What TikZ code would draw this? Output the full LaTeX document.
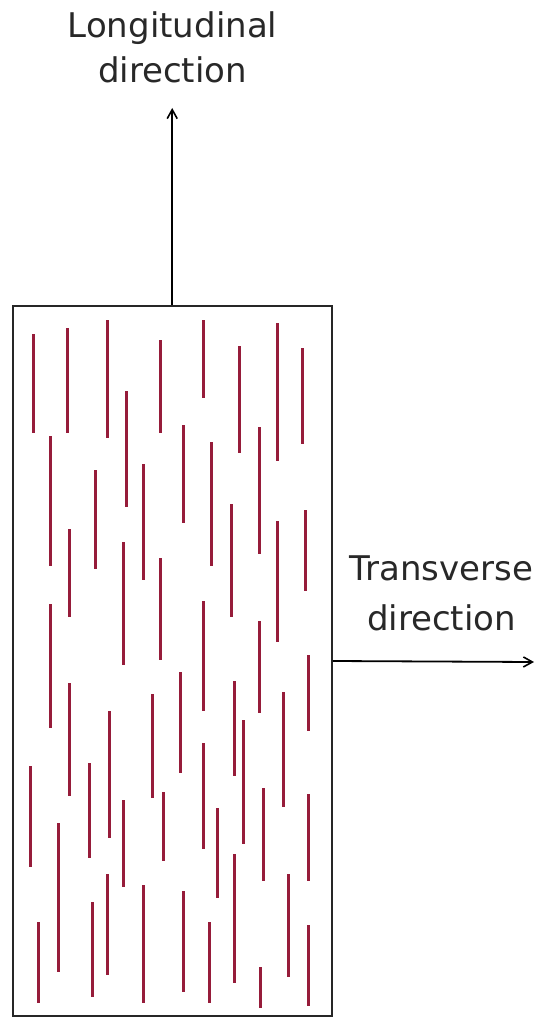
\documentclass[tikz,border=0pt]{standalone}
\usepackage{fontspec}
\setmainfont{DejaVu Sans}
\usetikzlibrary{arrows.meta}
\definecolor{fibercol}{RGB}{150,28,58}
\definecolor{txtcol}{RGB}{40,40,40}
\begin{document}
\begin{tikzpicture}[x=1pt,y=-1pt,
  lbl/.style={font=\fontsize{34}{42}\selectfont, text=txtcol, inner sep=0pt},
  fiber/.style={draw=fibercol, line width=3pt},
  boxstyle/.style={draw=black!85, line width=2.4pt, minimum width=319pt, minimum height=710pt, inner sep=0pt},
  dirarrow/.style={draw=black, line width=1.8pt, -{Straight Barb[length=9pt,width=10pt,line width=1.6pt]}}]
\useasboundingbox (0,0) rectangle (537,1019);
\node[boxstyle] (box) at (172.2,661) {};
\foreach \x/\a/\b in {
 33/334/433, 67/328/433, 107/320/438, 126/391/507, 160/340/433, 203/320/398,
 239/346/453, 277/323/461, 302/348/444, 50/436/566, 95/470/569, 143/464/580,
 183/425/523, 211/442/566, 259/427/554, 231/504/617, 277/521/642, 305/510/591,
 69/529/617, 123/542/665, 160/558/660, 50/604/728, 203/601/711, 259/621/713,
 308/655/731, 69/683/796, 109/711/838, 152/694/798, 180/672/773, 203/743/849,
 234/681/776, 243/720/844, 283/692/807, 30/766/867, 89/763/858, 123/800/887,
 163/792/861, 217/808/898, 263/788/881, 308/794/881, 58/823/972, 107/874/975,
 143/885/1003, 183/891/992, 234/854/983, 288/874/977, 38/922/1003, 92/902/997,
 209/922/1003, 260/967/1008, 308/925/1006}
 \draw[fiber] (\x,\a) -- (\x,\b);
\node[lbl, anchor=base] (l1) at (172.5,38) {Longitudinal};
\node[lbl, anchor=base] (l2) at (172.5,83) {direction};
\node[lbl, anchor=base] (t1) at (441.5,580) {Transverse};
\node[lbl, anchor=base] (t2) at (441.5,630) {direction};
\coordinate (ltip) at (172.2,108);
\coordinate (ttip) at (534,662);
\draw[dirarrow] (box.north) -- (ltip);
\draw[dirarrow] (box.east) -- (ttip);
\end{tikzpicture}
\end{document}
